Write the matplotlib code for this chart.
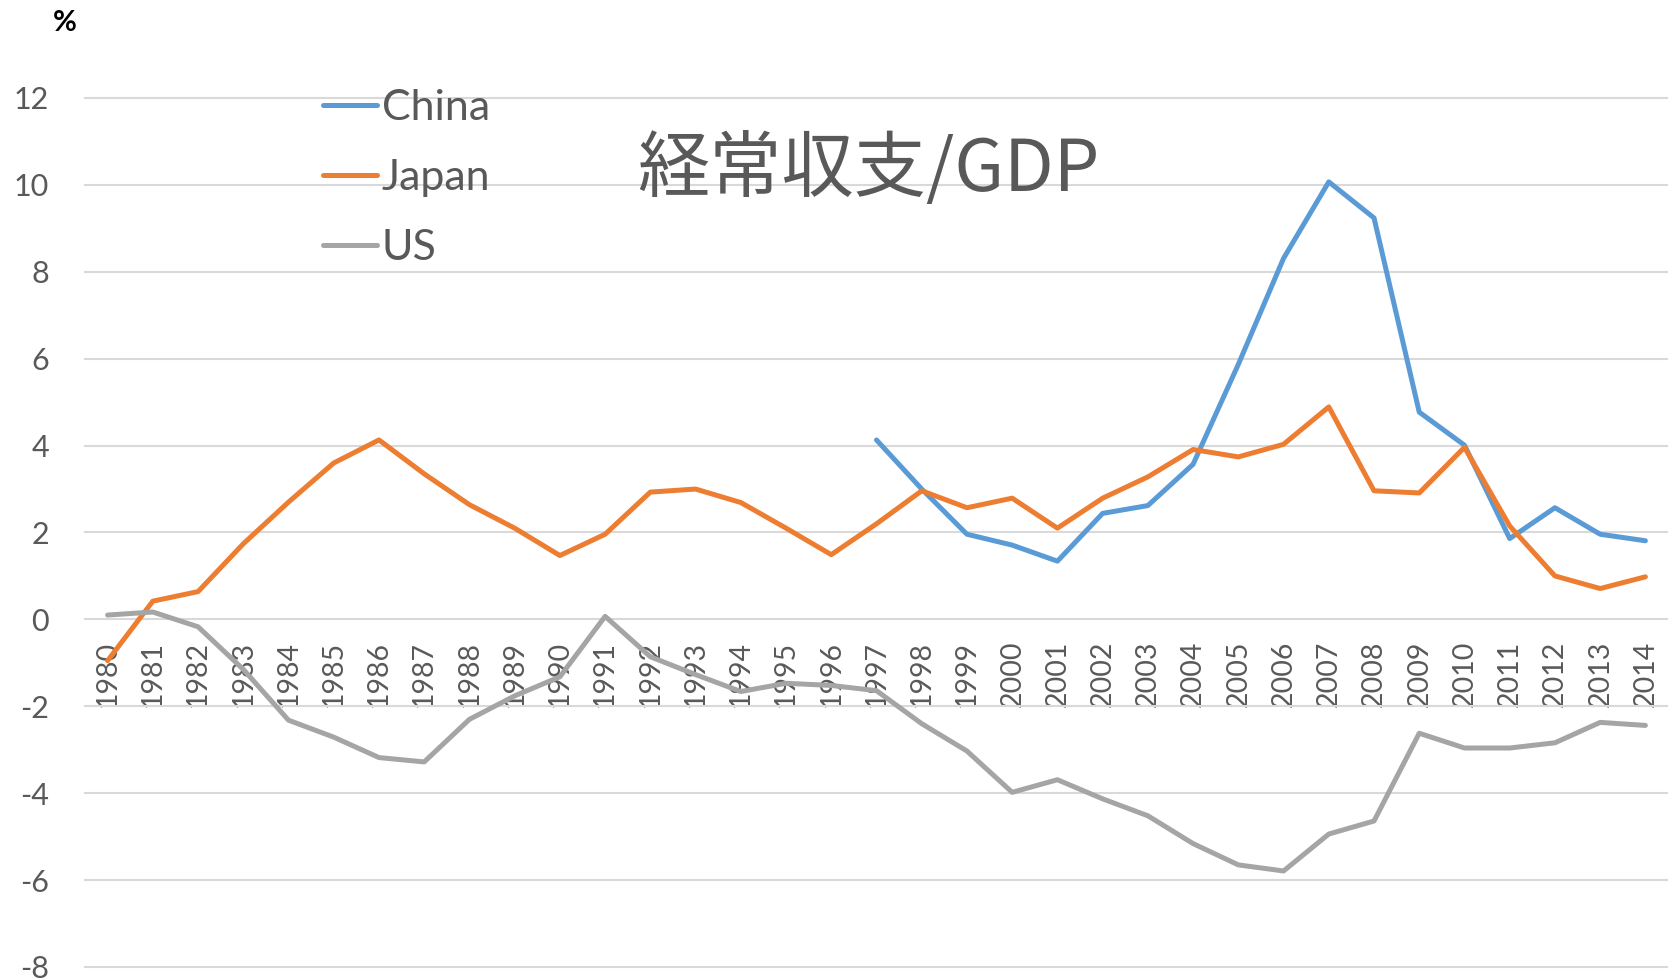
import matplotlib
matplotlib.use("Agg")
import matplotlib.pyplot as plt
import numpy as np

years = [str(y) for y in range(1980, 2015)]
japan = [-0.95, 0.42, 0.64, 1.74, 2.70, 3.60, 4.13, 3.35, 2.64, 2.10, 1.47, 1.96,
         2.93, 3.00, 2.69, 2.10, 1.49, 2.20, 2.96, 2.57, 2.79, 2.10, 2.79, 3.28,
         3.91, 3.74, 4.03, 4.89, 2.96, 2.91, 3.96, 2.15, 1.00, 0.71, 0.98]
china_years = [str(y) for y in range(1997, 2015)]
china = [4.13, 3.00, 1.96, 1.71, 1.34, 2.44, 2.62, 3.57, 5.87, 8.31, 10.07, 9.24,
         4.77, 4.01, 1.86, 2.57, 1.96, 1.81]
us = [0.10, 0.17, -0.17, -1.15, -2.32, -2.71, -3.18, -3.28, -2.30, -1.76, -1.32, 0.07,
      -0.86, -1.27, -1.66, -1.47, -1.52, -1.64, -2.40, -3.03, -3.98, -3.69, -4.13, -4.52,
      -5.16, -5.65, -5.79, -4.94, -4.64, -2.62, -2.96, -2.96, -2.84, -2.37, -2.44]
yticks = [-8, -6, -4, -2, 0, 2, 4, 6, 8, 10, 12]

TXT = "#595959"
FONT = ["Lato", "DejaVu Sans"]
plt.rcParams['font.family'] = FONT

W, H = 1668, 980
fig = plt.figure(figsize=(W / 100, H / 100), dpi=100)
left, right = 85 / W, 1.0
top_px, bot_px = 98, 967
ax = fig.add_axes([left, 1 - bot_px / H, right - left, (bot_px - top_px) / H])

x_all = np.arange(len(years))
x_china = np.array([years.index(y) for y in china_years])

ax.plot(x_china, china, color="#5B9BD5", lw=3.6, label="China", zorder=3, solid_capstyle='round')
ax.plot(x_all, japan, color="#ED7D31", lw=3.6, label="Japan", zorder=3, solid_capstyle='round')
ax.plot(x_all, us, color="#A5A5A5", lw=3.6, label="US", zorder=3, solid_capstyle='round')

ax.set_xlim(-0.5, len(years) - 0.5)
ax.set_ylim(-8, 12)
ax.set_yticks(yticks)
ax.set_yticklabels([str(v) for v in yticks])
ax.yaxis.grid(True, color="#D9D9D9", lw=1.5)
for gl in ax.get_ygridlines():
    gl.set_clip_on(False)
ax.set_axisbelow(True)

ax.set_xticks(x_all)
ax.set_xticklabels(years)
ax.spines['bottom'].set_position(('data', 0))
for s in ax.spines.values():
    s.set_color('none')
ax.tick_params(axis='x', length=0, pad=15.5, labelsize=20.5, labelcolor=TXT, labelrotation=90)
for lab in ax.get_xticklabels():
    lab.set_verticalalignment('top')
    lab.set_horizontalalignment('center')
ax.tick_params(axis='y', length=0, pad=26, labelsize=22, labelcolor=TXT)

leg = ax.legend(loc='upper left', bbox_to_anchor=(323 / W, 1 - 89 / H),
                bbox_transform=fig.transFigure, frameon=False, fontsize=31,
                handlelength=1.25, handletextpad=0.12, labelspacing=0.74,
                borderpad=0, borderaxespad=0)
for t in leg.get_texts():
    t.set_color(TXT)

fig.text(868 / W, 1 - 170 / H, "経常収支/GDP", ha='center', va='center', fontsize=52,
         color=TXT, family=["Noto Sans CJK JP", "DejaVu Sans"])
fig.text(65 / W, 1 - 23 / H, "%", ha='center', va='center', fontsize=21,
         fontweight='bold', color='black')

fig.savefig("out.png", dpi=100)
